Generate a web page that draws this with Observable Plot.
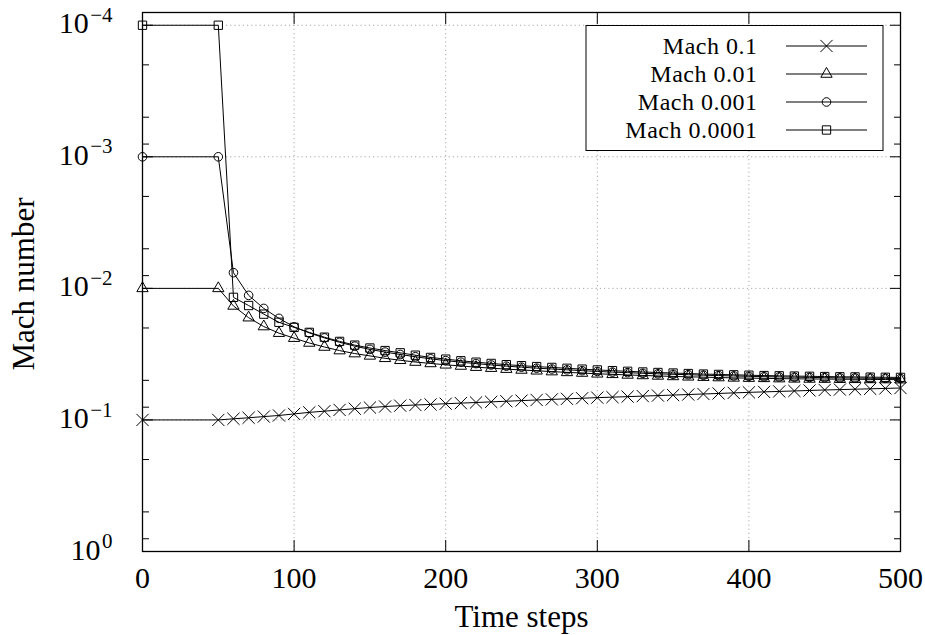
<!DOCTYPE html>
<html>
<head>
<meta charset="utf-8">
<script src="https://cdn.jsdelivr.net/npm/d3@7"></script>
<script src="https://cdn.jsdelivr.net/npm/@observablehq/plot@0.6"></script>
<style>
  body { margin: 0; background: #fff; }
  svg { display: block; }
</style>
</head>
<body>
<div id="chart"></div>
<script>
// ---- data ----
const steps = [0,50,60,70,80,90,100,110,120,130,140,150,160,170,180,190,200,210,220,230,240,250,260,270,280,290,300,310,320,330,340,350,360,370,380,390,400,410,420,430,440,450,460,470,480,490,500];

const machA = [0.1,0.1,0.098,0.0963,0.0943,0.0925,0.0900,0.0876,0.0858,0.0839,0.0821,0.0805,0.0791,0.0779,0.0770,0.0762,
  0.0753,0.0745,0.0737,0.0729,0.0721,0.0713,0.0705,0.0698,0.0691,0.0684,0.0677,
  0.0671,0.0665,0.0659,0.0653,0.0647,0.0641,0.0635,0.0629,0.0623,0.0617,
  0.0612,0.0607,0.0602,0.0597,0.0592,0.0588,0.0584,0.0580,0.0576,0.0572];

const machB = [0.01,0.01,0.0136,0.0167,0.0195,0.0219,0.0239,0.0260,0.0279,0.0297,0.0313,0.0326,0.0340,0.0352,0.0363,0.0372,
  0.0381,0.0389,0.0397,0.0404,0.0411,0.0417,0.0423,0.0429,0.0435,0.0440,0.0446,
  0.0450,0.0455,0.0459,0.0463,0.0467,0.0470,0.0473,0.0476,0.0479,0.0481,
  0.0483,0.0485,0.0487,0.0488,0.0489,0.0490,0.0491,0.0492,0.0493,0.0494];

const machC = [0.001,0.001,0.0076,0.0113,0.0142,0.0169,0.0196,0.0218,0.0238,0.0257,0.0275,0.0291,0.0305,0.0318,0.0331,0.0343,
  0.0354,0.0364,0.0373,0.0382,0.0390,0.0397,0.0404,0.0410,0.0416,0.0422,0.0428,
  0.0433,0.0437,0.0442,0.0446,0.0450,0.0453,0.0457,0.0460,0.0463,0.0466,
  0.0469,0.0471,0.0473,0.0475,0.0477,0.0479,0.0480,0.0482,0.0483,0.0484];

const machD = [0.0001,0.0001,0.0117,0.0135,0.0157,0.0181,0.0198,0.0216,0.0235,0.0253,0.0270,0.0284,0.0297,0.0309,0.0322,0.0335,
  0.0345,0.0355,0.0364,0.0372,0.0380,0.0387,0.0393,0.0399,0.0405,0.0411,0.0417,
  0.0422,0.0427,0.0432,0.0436,0.0440,0.0444,0.0448,0.0451,0.0454,0.0457,
  0.0460,0.0462,0.0464,0.0466,0.0468,0.0470,0.0471,0.0473,0.0474,0.0475];

const seriesNames = ["Mach 0.1", "Mach 0.01", "Mach 0.001", "Mach 0.0001"];
const seriesValues = [machA, machB, machC, machD];
const seriesSymbols = ["times", "triangle", "circle", "square"];
const seriesR = [5.6, 4.2, 4.3, 4.7];

const xTicks = [0, 100, 200, 300, 400, 500];
const xGrid = [100, 200, 300, 400];
const yMajorTicks = [1e-4, 1e-3, 1e-2, 1e-1, 1];
const yExponents = ["\u22124", "\u22123", "\u22122", "\u22121", "0"];
const yGrid = [1e-4, 1e-3, 1e-2, 1e-1];
const yMinorTicks = [2e-4,5e-4,8e-4,2e-3,5e-3,8e-3,2e-2,5e-2,8e-2,2e-1,5e-1,8e-1];

// ---- table for Plot ----
const rows = [];
seriesNames.forEach((name, i) => {
  steps.forEach((s, j) => rows.push({series: name, step: s, mach: seriesValues[i][j]}));
});

const FONT = "'Liberation Serif', 'Times New Roman', serif";
const gridStyle = {stroke: "#a8a8a8", strokeOpacity: 1, strokeWidth: 1, strokeDasharray: "1.2,3"};

const seriesMarks = [];
seriesNames.forEach((name, i) => {
  const d = rows.filter(r => r.series === name);
  seriesMarks.push(Plot.line(d, {x: "step", y: "mach", stroke: "black", strokeWidth: 1}));
  seriesMarks.push(Plot.dot(d, {x: "step", y: "mach", symbol: seriesSymbols[i], r: seriesR[i],
    stroke: "black", strokeWidth: 1, fill: "none"}));
});

const chart = Plot.plot({
  width: 925,
  height: 635,
  marginLeft: 142,
  marginRight: 25,
  marginTop: 12,
  marginBottom: 84,
  style: {fontFamily: FONT, fontSize: "30px", color: "black", background: "white", overflow: "visible"},
  x: {domain: [0, 500]},
  y: {type: "log", domain: [1, 8.0e-5]},
  marks: [
    Plot.gridX(xGrid, gridStyle),
    Plot.gridY(yGrid, gridStyle),
    ...seriesMarks,
    Plot.frame({stroke: "black", strokeWidth: 1.3}),
    // inward ticks
    Plot.axisX(xTicks, {anchor: "bottom", tickSize: -11, fill: "none", stroke: "black", label: null}),
    Plot.axisX(xTicks, {anchor: "top", tickSize: -11, fill: "none", stroke: "black", label: null}),
    Plot.axisY(yMajorTicks, {anchor: "left", tickSize: -11, fill: "none", stroke: "black", label: null}),
    Plot.axisY(yMajorTicks, {anchor: "right", tickSize: -11, fill: "none", stroke: "black", label: null}),
    Plot.axisY(yMinorTicks, {anchor: "left", tickSize: -7, fill: "none", stroke: "black", label: null}),
    Plot.axisY(yMinorTicks, {anchor: "right", tickSize: -7, fill: "none", stroke: "black", label: null}),
    // tick labels
    Plot.axisX(xTicks, {anchor: "bottom", tickSize: 0, tickPadding: 15, fontSize: 30, fill: "black",
      tickFormat: d => String(d), label: null}),
    Plot.axisY(yMajorTicks, {anchor: "left", tickSize: 0, tickPadding: 30, fontSize: 30, fill: "black",
      tickFormat: () => "10", label: null}),
    // axis titles
    Plot.text(["Time steps"], {frameAnchor: "bottom", textAnchor: "middle", lineAnchor: "bottom", dy: 75.5,
      fontSize: 31, text: d => d, fill: "black", ariaLabel: "xtitle"}),
    Plot.text(["Mach number"], {frameAnchor: "left", textAnchor: "middle", lineAnchor: "bottom", rotate: -90,
      dx: -108.5, dy: 2, fontSize: 31, text: d => d, fill: "black", ariaLabel: "ytitle"})
  ]
});

document.getElementById("chart").appendChild(chart);

const svg = d3.select(chart);
const yScale = chart.scale("y");

// superscript exponents on y tick labels: match each "10" label to the nearest major tick
const tickPx = yMajorTicks.map(v => yScale.apply(v));
svg.selectAll("text").filter(function() { return this.textContent === "10"; }).each(function() {
  const b = this.getBBox();
  const m = this.getCTM();
  const cy = (m ? m.f + m.d * (b.y + b.height / 2) : b.y + b.height / 2);
  let best = 0;
  tickPx.forEach((p, k) => { if (Math.abs(p - cy) < Math.abs(tickPx[best] - cy)) best = k; });
  const t = d3.select(this);
  t.attr("y", "0.27em");
  t.append("tspan").attr("dx", 1.5).attr("dy", -11.5).attr("font-size", 21).text(yExponents[best]);
});

svg.selectAll('g[aria-label="xtitle"] text, g[aria-label="ytitle"] text').style("letter-spacing", "1.3px");

// legend
const symMap = {times: d3.symbolTimes, triangle: d3.symbolTriangle, circle: d3.symbolCircle, square: d3.symbolSquare};
const lg = svg.append("g").attr("font-family", FONT).attr("font-size", 24);
lg.append("rect").attr("x", 586).attr("y", 25.5).attr("width", 297).attr("height", 125)
  .attr("fill", "white").attr("stroke", "black").attr("stroke-width", 1);
seriesNames.forEach((name, i) => {
  const cy = 46 + i * 28;
  lg.append("text").attr("x", 757.5).attr("y", cy).attr("dy", "0.32em").attr("text-anchor", "end")
    .style("letter-spacing", "0.5px").attr("fill", "black").text(name);
  lg.append("line").attr("x1", 786).attr("x2", 867).attr("y1", cy).attr("y2", cy)
    .attr("stroke", "black").attr("stroke-width", 1);
  lg.append("path").attr("transform", `translate(826.5,${cy})`)
    .attr("d", d3.symbol(symMap[seriesSymbols[i]], Math.PI * seriesR[i] * seriesR[i])())
    .attr("fill", "none").attr("stroke", "black").attr("stroke-width", 1);
});
</script>
</body>
</html>
